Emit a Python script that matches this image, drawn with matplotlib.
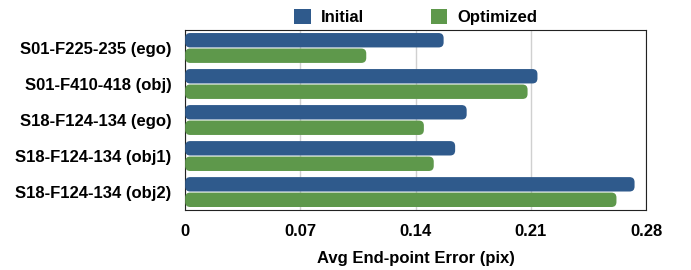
import numpy as np
import matplotlib.pyplot as plt
from matplotlib.patches import FancyBboxPatch, Patch

plt.rcParams['font.family'] = ['Liberation Sans', 'DejaVu Sans']
plt.rcParams['font.weight'] = 'bold'

labels = ['S01-F225-235 (ego)', 'S01-F410-418 (obj)', 'S18-F124-134 (ego)',
          'S18-F124-134 (obj1)', 'S18-F124-134 (obj2)']
initial = [0.157, 0.214, 0.171, 0.164, 0.273]
optimized = [0.110, 0.208, 0.145, 0.151, 0.262]
xticks = [0, 0.07, 0.14, 0.21, 0.28]

blue = '#2f5a8c'
green = '#5e984b'

fig = plt.figure(figsize=(6.91, 2.70), dpi=100)
ax = fig.add_axes([0.268, 0.222, 0.667, 0.667])

y = np.arange(len(labels))
h = 0.40
b1 = ax.barh(y - 0.215, initial, height=h, color=blue)
b2 = ax.barh(y + 0.215, optimized, height=h, color=green)

ax.set_xlim(0, 0.28)
ax.set_ylim(4.5, -0.5)

# swap rectangles for rounded ones
fig.canvas.draw()
inv = ax.transData.inverted()
p0 = inv.transform((0, 0))
p1 = inv.transform((1, 1))
xpp = abs(p1[0] - p0[0])
ypp = abs(p1[1] - p0[1])
for bars in (b1, b2):
    for r in bars:
        r.set_visible(False)
        fb = FancyBboxPatch((r.get_x(), r.get_y()), r.get_width(), r.get_height(),
                            boxstyle='round,pad=0,rounding_size=%f' % (5 * xpp),
                            mutation_aspect=ypp / xpp,
                            facecolor=r.get_facecolor(), edgecolor='none', zorder=3)
        ax.add_patch(fb)

ax.set_yticks(y)
ax.set_yticklabels(labels, fontsize=12, fontweight='bold')
ax.set_xticks(xticks)
ax.set_xticklabels(['0', '0.07', '0.14', '0.21', '0.28'], fontsize=12, fontweight='bold')
ax.tick_params(axis='x', length=0, pad=10)
ax.tick_params(axis='y', length=0, pad=10)
ax.xaxis.grid(True, color='#d0d0d0', linewidth=1)
ax.set_axisbelow(True)
for s in ax.spines.values():
    s.set_color('#222222')
    s.set_linewidth(0.8)

ax.set_xlabel('Avg End-point Error (pix)', fontsize=12, fontweight='bold', labelpad=9)

handles = [Patch(facecolor=blue, label='Initial'), Patch(facecolor=green, label='Optimized')]
ax.legend(handles=handles, loc='lower center', bbox_to_anchor=(0.5, 0.98), ncol=2, frameon=False,
          fontsize=12, handlelength=1.0, handleheight=1.0, columnspacing=4.0,
          handletextpad=0.6, borderaxespad=0.1)

fig.savefig('out.png', dpi=100)
